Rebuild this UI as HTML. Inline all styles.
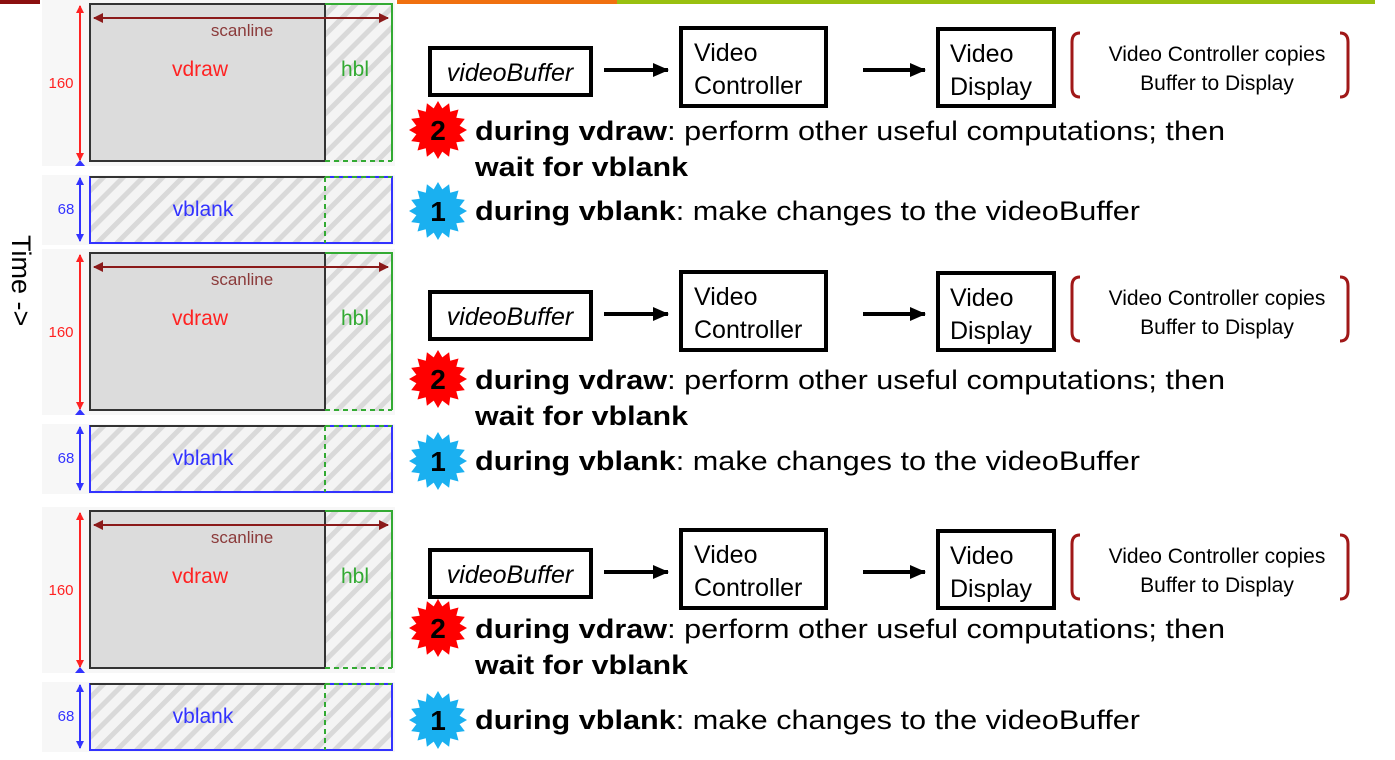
<!DOCTYPE html>
<html><head><meta charset="utf-8"><style>
html,body{margin:0;padding:0;background:#fff;}
svg{display:block;}
text{font-family:"Liberation Sans",Arial,sans-serif;}
</style></head><body>
<svg width="1395" height="760" viewBox="0 0 1395 760" xmlns="http://www.w3.org/2000/svg">
<defs>
<pattern id="hatch" patternUnits="userSpaceOnUse" width="14" height="14" patternTransform="rotate(45)">
<rect width="14" height="14" fill="#f4f4f4"/>
<rect x="0" y="0" width="5" height="14" fill="#d9d9d9"/>
</pattern>
<polygon id="star" points="29,0 21.6,4.3 26.8,11.1 18.3,12.2 20.5,20.5 12.2,18.3 11.1,26.8 4.3,21.6 0,29 -4.3,21.6 -11.1,26.8 -12.2,18.3 -20.5,20.5 -18.3,12.2 -26.8,11.1 -21.6,4.3 -29,0 -21.6,-4.3 -26.8,-11.1 -18.3,-12.2 -20.5,-20.5 -12.2,-18.3 -11.1,-26.8 -4.3,-21.6 0,-29 4.3,-21.6 11.1,-26.8 12.2,-18.3 20.5,-20.5 18.3,-12.2 26.8,-11.1 21.6,-4.3"/>
<marker id="ar" markerWidth="8" markerHeight="8" refX="7" refY="4" orient="auto" markerUnits="userSpaceOnUse"><path d="M0,0 L8,4 L0,8 z" fill="#f22"/></marker>
<marker id="ab" markerWidth="8" markerHeight="8" refX="7" refY="4" orient="auto" markerUnits="userSpaceOnUse"><path d="M0,0 L8,4 L0,8 z" fill="#33f"/></marker>
<marker id="ad" markerWidth="10" markerHeight="10" refX="9" refY="5" orient="auto" markerUnits="userSpaceOnUse"><path d="M0,0 L10,5 L0,10 z" fill="#8b1a1a"/></marker>
<marker id="ak" markerWidth="16" markerHeight="16" refX="15" refY="8" orient="auto" markerUnits="userSpaceOnUse"><path d="M0,1 L16,8 L0,15 z" fill="#000"/></marker>

<g id="left">
<rect x="42" y="0" width="353" height="166" fill="#f7f7f7"/>
<rect x="90" y="4" width="302" height="158" fill="url(#hatch)"/>
<rect x="90" y="4" width="235" height="157" fill="#dcdcdc" stroke="#333" stroke-width="2"/>
<path d="M325,4 H392 V161" fill="none" stroke="#3a3" stroke-width="2"/>
<path d="M325,161 H392" fill="none" stroke="#3a3" stroke-width="2" stroke-dasharray="5,4"/>
<line x1="80" y1="160" x2="80" y2="6" stroke="#f22" stroke-width="2" marker-end="url(#ar)"/>
<line x1="80" y1="6" x2="80" y2="160" stroke="#f22" stroke-width="2" marker-end="url(#ar)"/>
<path d="M75,166 L80,160 L85,166 z" fill="#33f"/>
<text x="61" y="88" font-size="15" fill="#f22" text-anchor="middle">160</text>
<line x1="385" y1="18" x2="94" y2="18" stroke="#8b1a1a" stroke-width="2" marker-end="url(#ad)"/>
<line x1="94" y1="18" x2="388" y2="18" stroke="#8b1a1a" stroke-width="2" marker-end="url(#ad)"/>
<text x="242" y="36" font-size="17" fill="#8b3a3a" text-anchor="middle" font-family="DejaVu Sans,sans-serif">scanline</text>
<text x="200" y="76" font-size="21" fill="#f22" text-anchor="middle" font-family="DejaVu Sans,sans-serif">vdraw</text>
<text x="355" y="76" font-size="21" fill="#3a3" text-anchor="middle" font-family="DejaVu Sans,sans-serif">hbl</text>
<rect x="42" y="175" width="353" height="70" fill="#f7f7f7"/>
<rect x="90" y="177" width="302" height="66" fill="url(#hatch)" stroke="#33f" stroke-width="2"/>
<line x1="90" y1="177" x2="325" y2="177" stroke="#333" stroke-width="2"/>
<path d="M325,177 H392 M325,177 V243" fill="none" stroke="#3a3" stroke-width="2" stroke-dasharray="5,4"/>
<line x1="80" y1="241" x2="80" y2="178" stroke="#33f" stroke-width="2" marker-end="url(#ab)"/>
<line x1="80" y1="178" x2="80" y2="241" stroke="#33f" stroke-width="2" marker-end="url(#ab)"/>
<text x="66" y="214" font-size="15" fill="#33f" text-anchor="middle">68</text>
<text x="203" y="216" font-size="21" fill="#33f" text-anchor="middle" font-family="DejaVu Sans,sans-serif">vblank</text>
</g>

<g id="boxes">
<rect x="430" y="48" width="161" height="47" fill="#fff" stroke="#000" stroke-width="4"/>
<text x="510" y="81" font-size="25" font-style="italic" text-anchor="middle">videoBuffer</text>
<line x1="604" y1="70" x2="668" y2="70" stroke="#000" stroke-width="4" marker-end="url(#ak)"/>
<rect x="681" y="28" width="145" height="78" fill="#fff" stroke="#000" stroke-width="4"/>
<text x="694" y="61" font-size="25">Video</text>
<text x="694" y="94" font-size="25">Controller</text>
<line x1="863" y1="70" x2="925" y2="70" stroke="#000" stroke-width="4" marker-end="url(#ak)"/>
<rect x="938" y="29" width="116" height="77" fill="#fff" stroke="#000" stroke-width="4"/>
<text x="950" y="62" font-size="25">Video</text>
<text x="950" y="95" font-size="25">Display</text>
<path d="M1080,33 Q1072,33 1072,42 V88 Q1072,97 1080,97" fill="none" stroke="#a01818" stroke-width="3"/>
<path d="M1340,33 Q1348,33 1348,42 V88 Q1348,97 1340,97" fill="none" stroke="#a01818" stroke-width="3"/>
<text x="1217" y="61" font-size="21" text-anchor="middle">Video Controller copies</text>
<text x="1217" y="90" font-size="21" text-anchor="middle">Buffer to Display</text>
</g>
<g id="l2">
<use href="#star" x="438" y="130" fill="#f00"/>
<text x="438" y="140" font-size="28" font-weight="bold" text-anchor="middle">2</text>
<text x="475" y="140" font-size="27" textLength="750" lengthAdjust="spacingAndGlyphs"><tspan font-weight="bold">during vdraw</tspan>: perform other useful computations; then</text>
<text x="475" y="176" font-size="27" font-weight="bold" textLength="213" lengthAdjust="spacingAndGlyphs">wait for vblank</text>
</g>
<g id="l1">
<use href="#star" x="438" y="211" fill="#1ab0f0"/>
<text x="438" y="221" font-size="28" font-weight="bold" text-anchor="middle">1</text>
<text x="475" y="220" font-size="27" textLength="665" lengthAdjust="spacingAndGlyphs"><tspan font-weight="bold">during vblank</tspan>: make changes to the videoBuffer</text>
</g>
</defs>

<rect x="0" y="0" width="40" height="4" fill="#8b1010"/>
<rect x="397" y="0" width="220" height="4" fill="#f07010"/>
<rect x="617" y="0" width="758" height="4" fill="#99c010"/>

<use href="#left" x="0" y="0"/>
<use href="#left" x="0" y="249"/>
<use href="#left" x="0" y="507"/>
<use href="#boxes" x="0" y="0"/>
<use href="#boxes" x="0" y="244"/>
<use href="#boxes" x="0" y="502"/>
<use href="#l2" x="0" y="0"/>
<use href="#l2" x="0" y="249"/>
<use href="#l2" x="0" y="498"/>
<use href="#l1" x="0" y="0"/>
<use href="#l1" x="0" y="250"/>
<use href="#l1" x="0" y="509"/>

<text transform="translate(12,235) rotate(90)" font-size="27" fill="#000">Time -&gt;</text>
</svg>
</body></html>
